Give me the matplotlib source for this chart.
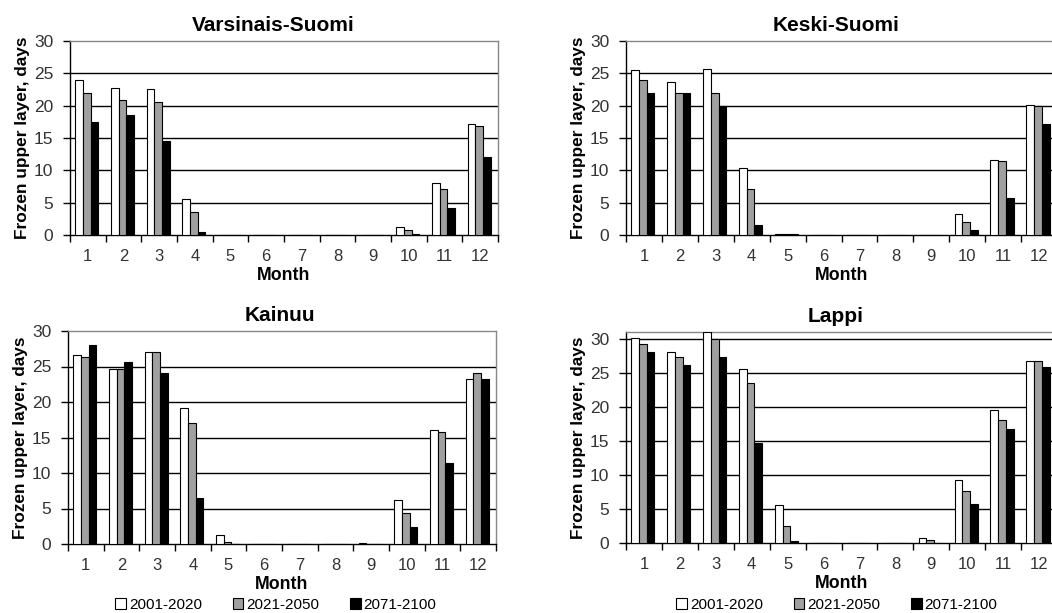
import matplotlib
matplotlib.use("Agg")
import matplotlib.pyplot as plt
import numpy as np
from matplotlib.patches import Patch

plt.rcParams['font.family'] = ['Liberation Sans', 'DejaVu Sans']

months = list(range(1, 13))
series = ["2001-2020", "2021-2050", "2071-2100"]
colors = ["#ffffff", "#a0a0a0", "#000000"]

vs_2001 = [24.0, 22.7, 22.6, 5.5, 0, 0, 0, 0, 0, 1.3, 8.1, 17.2]
vs_2021 = [21.9, 20.8, 20.6, 3.6, 0, 0, 0, 0, 0, 0.7, 7.1, 16.9]
vs_2071 = [17.5, 18.5, 14.6, 0.5, 0, 0, 0, 0, 0, 0.2, 4.1, 12.0]

ks_2001 = [25.5, 23.6, 25.6, 10.4, 0.1, 0, 0, 0, 0, 3.2, 11.6, 20.1]
ks_2021 = [23.9, 21.9, 21.9, 7.1, 0.1, 0, 0, 0, 0, 2.0, 11.5, 20.0]
ks_2071 = [21.9, 21.9, 19.9, 1.5, 0.1, 0, 0, 0, 0, 0.7, 5.7, 17.1]

ka_2001 = [26.6, 24.7, 27.0, 19.1, 1.2, 0, 0, 0, 0.2, 6.2, 16.1, 23.3]
ka_2021 = [26.3, 24.6, 27.0, 17.0, 0.3, 0, 0, 0, 0, 4.3, 15.8, 24.1]
ka_2071 = [28.0, 25.7, 24.1, 6.5, 0, 0, 0, 0, 0, 2.4, 11.4, 23.3]

la_2001 = [30.1, 28.0, 31.0, 25.5, 5.6, 0, 0, 0, 0.8, 9.3, 19.5, 26.8]
la_2021 = [29.3, 27.4, 30.0, 23.5, 2.5, 0, 0, 0, 0.5, 7.7, 18.0, 26.8]
la_2071 = [28.0, 26.1, 27.4, 14.7, 0.3, 0, 0, 0, 0, 5.8, 16.7, 25.8]

W, H = 1052, 613
fig = plt.figure(figsize=(W / 100, H / 100), dpi=100)

def axes_px(left, right, top, bottom):
    return fig.add_axes([left / W, 1 - bottom / H, (right - left) / W, (bottom - top) / H])

panels = [
    ("Varsinais-Suomi", (vs_2001, vs_2021, vs_2071), (70, 498, 41, 235), 30, 0.474),
    ("Keski-Suomi", (ks_2001, ks_2021, ks_2071), (626, 1057, 41, 235), 30, 0.487),
    ("Kainuu", (ka_2001, ka_2021, ka_2071), (68, 496, 331, 544), 30, 0.495),
    ("Lappi", (la_2001, la_2021, la_2071), (626, 1057, 332, 543), 31, 0.487),
]

bw = 0.215
x = np.arange(len(months))
for title, data, box, ymax, tx in panels:
    ax = axes_px(*box)
    for i, vals in enumerate(data):
        ax.bar(x + (i - 1) * bw - 0.03, vals, width=bw, color=colors[i],
               edgecolor="black", linewidth=0.8, zorder=3)
    ax.set_xlim(-0.5, 11.5)
    ax.set_ylim(0, ymax)
    ax.set_yticks(range(0, 31, 5))
    for yv in range(5, 31, 5):
        if yv < ymax:
            ax.axhline(yv, color="black", linewidth=1.0, zorder=1)
    ax.set_xticks(x)
    ax.set_xticklabels([str(m) for m in months])
    ax.set_xticks(np.arange(-0.5, 12.0, 1.0), minor=True)
    ax.tick_params(axis="x", which="major", length=0, pad=10, labelsize=12, labelcolor="#333333")
    ax.tick_params(axis="x", which="minor", length=5, width=1, direction="out", color="black")
    ax.tick_params(axis="y", length=5, width=1, direction="out", labelsize=12.5, labelcolor="#333333", pad=7)
    for s in ["top", "right"]:
        ax.spines[s].set_color("#888888")
        ax.spines[s].set_linewidth(1.0)
    for s in ["left", "bottom"]:
        ax.spines[s].set_color("black")
        ax.spines[s].set_linewidth(1.0)
    ax.set_title(title, fontsize=15, fontweight="bold", pad=7, x=tx)
    ax.set_xlabel("Month", fontsize=12.8, fontweight="bold", labelpad=2)
    ax.set_ylabel("Frozen upper layer, days", fontsize=12.4, fontweight="bold", labelpad=3)

handles = [Patch(facecolor=c, edgecolor="black", linewidth=0.8) for c in colors]
for cx in (276 / W, 837 / W):
    fig.legend(handles, series, loc="center", bbox_to_anchor=(cx, 1 - 605 / H), ncol=3,
               frameon=False, fontsize=11, handlelength=0.7, handleheight=0.7,
               handletextpad=0.2, columnspacing=2.0, borderpad=0, borderaxespad=0)

fig.savefig("out.png", dpi=100, facecolor="white")
